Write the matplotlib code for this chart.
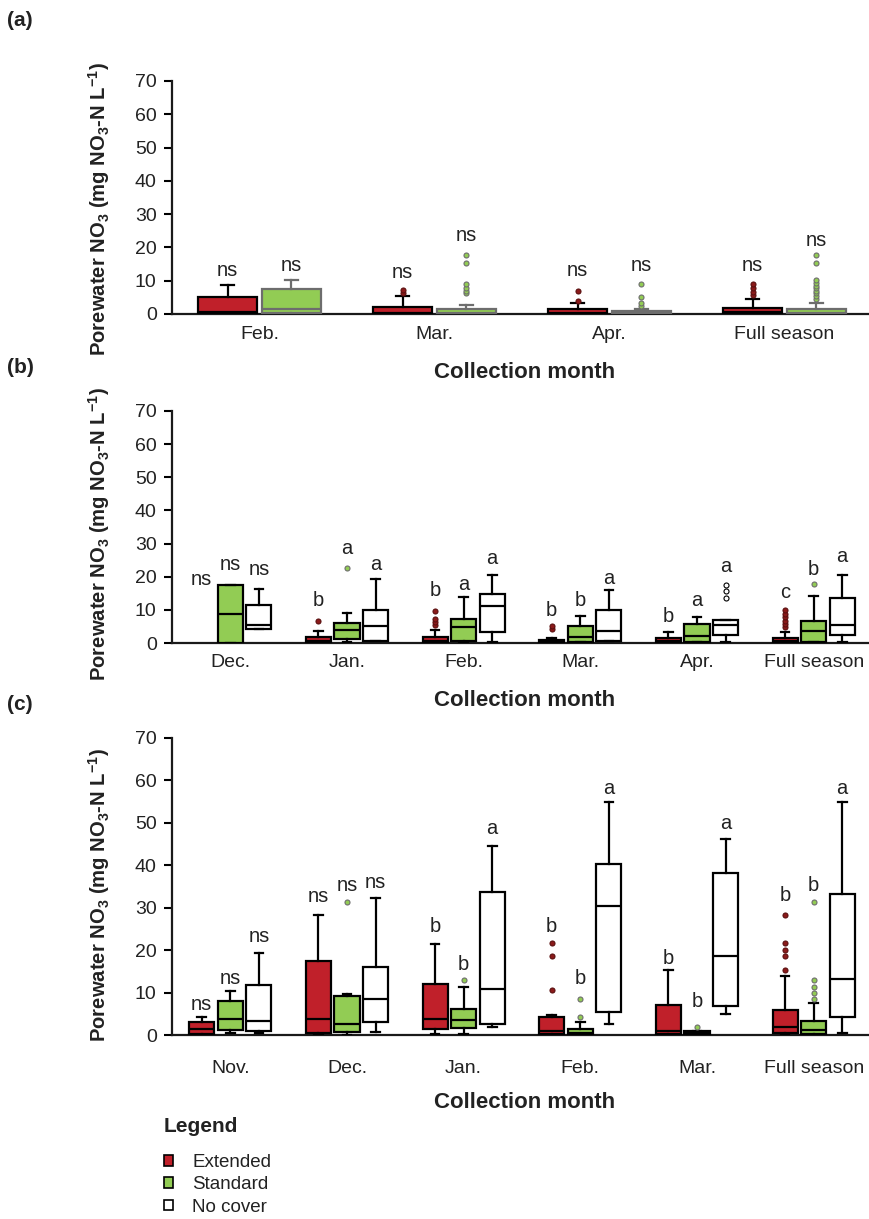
import matplotlib
matplotlib.use("Agg")
import matplotlib.pyplot as plt
from matplotlib.patches import Patch

plt.rcParams['font.family'] = ['Liberation Sans', 'DejaVu Sans']
plt.rcParams['mathtext.default'] = 'regular'

# ---------------- data ----------------
# box stats: [whislo, q1, median, q3, whishi]
months_a = ['Feb.', 'Mar.', 'Apr.', 'Full season']
a_ext = [[0, 0.1, 0.7, 5.2, 8.7], [0, 0.1, 0.3, 2.2, 5.4], [0, 0.1, 0.3, 1.4, 3.2], [0, 0.1, 0.5, 1.7, 4.6]]
a_ext_fliers = [[], [6.4, 7.3], [4.0, 7.0], [5.7, 6.7, 7.7, 9.0]]
a_std = [[0, 0.2, 1.5, 7.5, 10.2], [0, 0.1, 0.3, 1.4, 2.8], [0, 0.1, 0.2, 0.8, 1.4], [0, 0.1, 0.3, 1.4, 3.2]]
a_std_fliers = [[], [6.2, 7.0, 7.9, 8.9, 15.4, 17.7], [2.4, 3.2, 5.0, 8.9],
                [4.5, 5.4, 6.2, 6.9, 7.7, 8.4, 9.2, 10.2, 15.4, 17.7]]
a_ext_letters = ['ns', 'ns', 'ns', 'ns']
a_ext_letter_y = [13.2, 12.4, 13.2, 14.7]
a_std_letters = ['ns', 'ns', 'ns', 'ns']
a_std_letter_y = [14.7, 23.7, 14.7, 22.2]

months_b = ['Dec.', 'Jan.', 'Feb.', 'Mar.', 'Apr.', 'Full season']
b_ext = [None, [0, 0.2, 0.7, 1.8, 3.7], [0, 0.2, 0.7, 1.8, 3.8], [0, 0.1, 0.3, 0.9, 1.6],
         [0, 0.2, 0.6, 1.4, 3.4], [0, 0.2, 0.6, 1.4, 3.2]]
b_ext_fliers = [[], [6.5], [5.3, 6.2, 7.2, 9.8], [4.2, 5.0], [], [4.8, 5.8, 6.7, 7.8, 8.9, 9.9]]
b_std = [[0, 0, 8.85, 17.6, 17.6], [0.2, 1.3, 4.0, 5.9, 9.2], [0.2, 0.7, 4.7, 7.2, 14.0],
         [0.2, 0.4, 1.8, 5.0, 8.2], [0.2, 0.4, 2.0, 5.6, 7.9], [0.2, 0.4, 3.5, 6.5, 14.1]]
b_std_fliers = [[], [22.5], [], [], [], [17.7]]
b_nc = [[4.2, 4.2, 5.5, 11.6, 16.4], [0.7, 0.7, 5.0, 9.9, 19.4], [0.2, 3.2, 11.1, 14.9, 20.6],
        [0.7, 0.7, 3.7, 9.9, 16.0], [0.2, 2.5, 5.3, 6.8, 6.8], [0.2, 2.5, 5.5, 13.5, 20.6]]
b_nc_fliers = [[], [], [], [], [13.6, 15.6, 17.6], []]
b_ext_letters = ['ns', 'b', 'b', 'b', 'b', 'c']
b_ext_letter_y = [19.1, 12.9, 15.9, 9.8, 8.0, 15.1]
b_std_letters = ['ns', 'a', 'a', 'b', 'a', 'b']
b_std_letter_y = [23.6, 28.4, 17.6, 12.8, 12.9, 22.3]
b_nc_letters = ['ns', 'a', 'a', 'a', 'a', 'a']
b_nc_letter_y = [22.3, 23.6, 25.4, 19.6, 23.1, 26.0]

months_c = ['Nov.', 'Dec.', 'Jan.', 'Feb.', 'Mar.', 'Full season']
c_ext = [[0, 0.2, 1.5, 3.1, 4.3], [0, 0.4, 3.8, 17.5, 28.3], [0.2, 1.3, 3.7, 12.1, 21.5],
         [0, 0.2, 1.0, 4.3, 4.8], [0, 0.2, 0.9, 7.1, 15.4], [0, 0.4, 1.8, 5.9, 13.9]]
c_ext_fliers = [[], [], [], [10.6, 18.7, 21.7], [], [15.3, 18.7, 20.0, 21.6, 28.4]]
c_std = [[0.4, 1.2, 3.7, 8.1, 10.4], [0, 0.6, 2.6, 9.2, 9.7], [0.2, 1.6, 3.5, 6.1, 11.4],
         [0, 0.1, 0.5, 1.5, 3.1], [0, 0.1, 0.4, 1.0, 1.0], [0, 0.2, 1.2, 3.3, 7.6]]
c_std_fliers = [[], [31.4], [13.0], [4.2, 8.6], [2.0], [8.6, 9.8, 11.4, 13.0, 31.4]]
c_nc = [[0.4, 0.9, 3.2, 11.9, 19.4], [0.6, 3.1, 8.6, 16.1, 32.2], [1.8, 2.5, 10.8, 33.6, 44.5],
        [2.5, 5.5, 30.5, 40.3, 54.9], [4.9, 6.9, 18.7, 38.2, 46.2], [0.4, 4.3, 13.3, 33.2, 54.9]]
c_nc_fliers = [[], [], [], [], [], []]
c_ext_letters = ['ns', 'ns', 'b', 'b', 'b', 'b']
c_ext_letter_y = [7.3, 32.7, 25.5, 25.5, 18.1, 32.8]
c_std_letters = ['ns', 'ns', 'b', 'b', 'b', 'b']
c_std_letter_y = [13.3, 35.3, 16.5, 13.3, 8.0, 35.3]
c_nc_letters = ['ns', 'ns', 'a', 'a', 'a', 'a']
c_nc_letter_y = [23.2, 35.9, 48.7, 58.1, 49.8, 58.1]

treatments = ['Extended', 'Standard', 'No cover']
yticks = [0, 10, 20, 30, 40, 50, 60, 70]

# ---------------- style ----------------
RED = '#C0202A'
GREEN = '#92CC54'
WHITE = '#FFFFFF'
TXT = '#222222'
W, H = 870, 1219

fig = plt.figure(figsize=(W / 100, H / 100), dpi=100)


def axes_px(left, right, top, bottom):
    return fig.add_axes([left / W, 1 - bottom / H, (right - left) / W, (bottom - top) / H])


def draw_series(ax, stats, fliers, positions, width, face, edge, fl_face, fl_edge):
    st, pos = [], []
    for s, f, p in zip(stats, fliers, positions):
        if s is None:
            continue
        st.append(dict(whislo=s[0], q1=s[1], med=s[2], q3=s[3], whishi=s[4], fliers=f))
        pos.append(p)
    ax.bxp(st, positions=pos, widths=width, patch_artist=True, capwidths=0.075,
           boxprops=dict(facecolor=face, edgecolor=edge, linewidth=1.6),
           medianprops=dict(color=edge, linewidth=1.6),
           whiskerprops=dict(color=edge, linewidth=1.6),
           capprops=dict(color=edge, linewidth=1.6),
           flierprops=dict(marker='o', markersize=3.6, markerfacecolor=fl_face,
                           markeredgecolor=fl_edge, markeredgewidth=0.8),
           manage_ticks=False, zorder=3)


def letters(ax, positions, labels, ys):
    for p, l, y in zip(positions, labels, ys):
        ax.text(p, y, l, ha='center', va='center', fontsize=14.5, color=TXT)


def style_axes(ax, months, xpad):
    ax.set_xlim(-0.5, len(months) - 0.5)
    ax.set_ylim(0, 70)
    ax.set_yticks(yticks)
    ax.set_xticks(range(len(months)))
    ax.set_xticklabels(months)
    ax.tick_params(axis='x', length=0, pad=xpad, labelsize=14, labelcolor=TXT)
    ax.tick_params(axis='y', direction='out', length=6, width=1.5, labelsize=14,
                   labelcolor=TXT, pad=5)
    for s in ['top', 'right']:
        ax.spines[s].set_visible(False)
    for s in ['left', 'bottom']:
        ax.spines[s].set_linewidth(1.6)
        ax.spines[s].set_color('#1a1a1a')
    ax.patch.set_alpha(0)


ylabel = 'Porewater NO$_3$ (mg NO$_3$-N L$^{-1}$)'

# ---------------- panel (a) ----------------
axa = axes_px(172, 872, 81, 314)
xa = range(len(months_a))
off_a, w_a = 0.182, 0.338
pa_ext = [x - off_a for x in xa]
pa_std = [x + off_a for x in xa]
draw_series(axa, a_ext, a_ext_fliers, pa_ext, w_a, RED, 'black', '#8B1A1A', '#5a1010')
draw_series(axa, a_std, a_std_fliers, pa_std, w_a, GREEN, '#6d6d6d', GREEN, '#6d6d6d')
letters(axa, pa_ext, a_ext_letters, a_ext_letter_y)
letters(axa, pa_std, a_std_letters, a_std_letter_y)
style_axes(axa, months_a, 9)

# ---------------- panels (b) and (c) ----------------
off, w = 0.245, 0.215


def three_panel(ax, months, ext, extf, std, stdf, nc, ncf, le, ley, ls, lsy, ln, lny, xpad):
    xs = range(len(months))
    pe = [x - off for x in xs]
    ps = list(xs)
    pn = [x + off for x in xs]
    draw_series(ax, ext, extf, pe, w, RED, 'black', '#8B1A1A', '#5a1010')
    draw_series(ax, std, stdf, ps, w, GREEN, 'black', GREEN, '#6d6d6d')
    draw_series(ax, nc, ncf, pn, w, WHITE, 'black', WHITE, 'black')
    letters(ax, pe, le, ley)
    letters(ax, ps, ls, lsy)
    letters(ax, pn, ln, lny)
    style_axes(ax, months, xpad)


axb = axes_px(172, 872, 411, 643)
three_panel(axb, months_b, b_ext, b_ext_fliers, b_std, b_std_fliers, b_nc, b_nc_fliers,
            b_ext_letters, b_ext_letter_y, b_std_letters, b_std_letter_y,
            b_nc_letters, b_nc_letter_y, 8)

axc = axes_px(172, 872, 738, 1035)
three_panel(axc, months_c, c_ext, c_ext_fliers, c_std, c_std_fliers, c_nc, c_nc_fliers,
            c_ext_letters, c_ext_letter_y, c_std_letters, c_std_letter_y,
            c_nc_letters, c_nc_letter_y, 18)

# ---------------- labels ----------------
for ax, tag, tag_y, xl_y in [(axa, '(a)', 20, 372), (axb, '(b)', 368, 700), (axc, '(c)', 705, 1102)]:
    ax.set_ylabel(ylabel, fontsize=14.6, fontweight='bold', color=TXT)
    ax.yaxis.set_label_coords(-(172 - 112) / 700, 0.45 if ax is axa else 0.47)
    fig.text(20 / W, 1 - tag_y / H, tag, fontsize=15, fontweight='bold', color=TXT,
             ha='center', va='center')
    fig.text(525 / W, 1 - xl_y / H, 'Collection month', fontsize=16, fontweight='bold',
             color=TXT, ha='center', va='center')

# ---------------- legend ----------------
handles = [Patch(facecolor=RED, edgecolor='black', linewidth=1.2),
           Patch(facecolor=GREEN, edgecolor='black', linewidth=1.2),
           Patch(facecolor=WHITE, edgecolor='black', linewidth=1.2)]
leg = fig.legend(handles, treatments, loc='upper left',
                 bbox_to_anchor=(151 / W, 1 - 1104 / H), frameon=False,
                 title='Legend', alignment='left', fontsize=13.5,
                 title_fontproperties={'weight': 'bold', 'size': 15},
                 handlelength=0.5, handleheight=0.5, handletextpad=1.0,
                 labelspacing=0.28, borderpad=0.2)
leg.get_title().set_color(TXT)
for t in leg.get_texts():
    t.set_color(TXT)
leg._legend_box.sep = 13

fig.savefig('out.png', dpi=100)
